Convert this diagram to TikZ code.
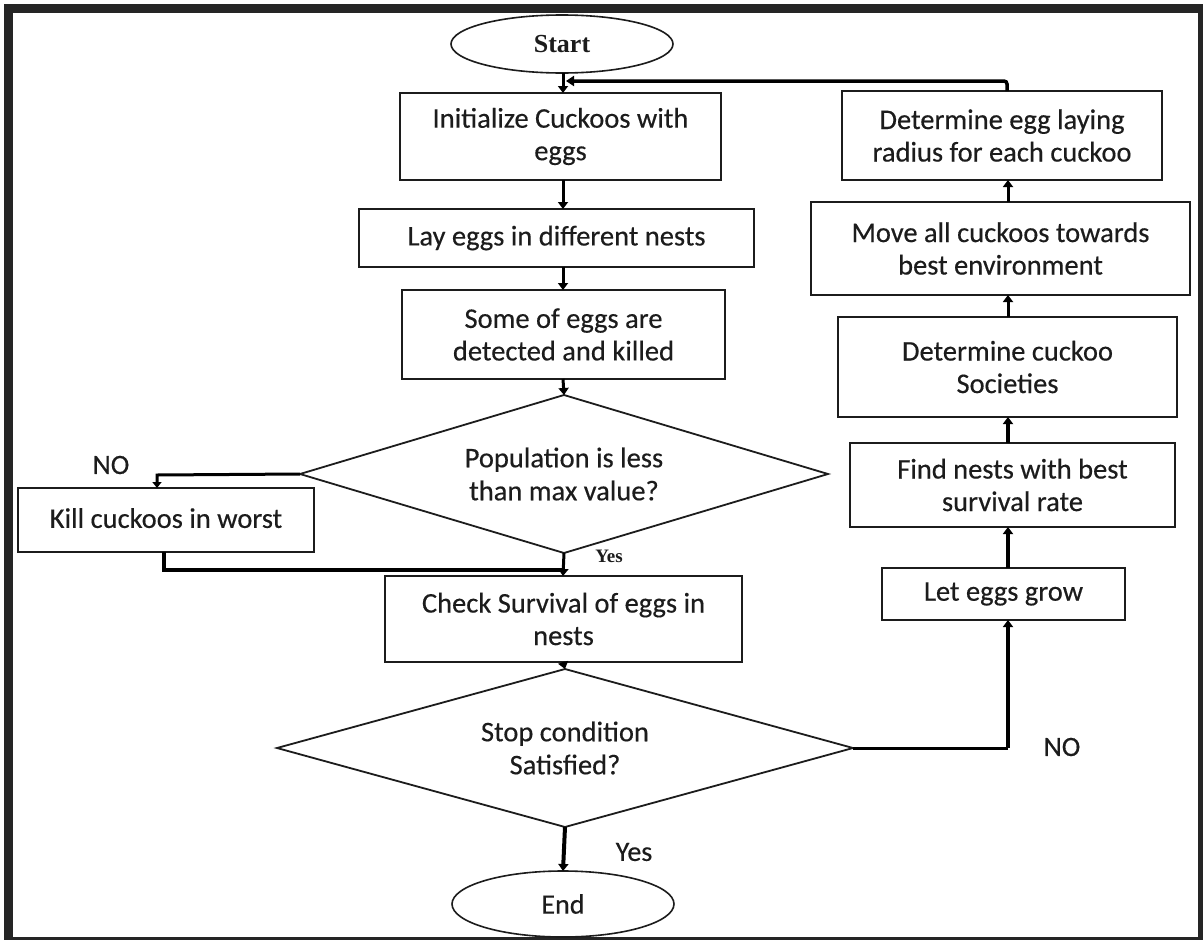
\documentclass[tikz,border=0pt]{standalone}
\usepackage{fontspec}
\setmainfont{Carlito}[FakeBold=0.35]
\newfontfamily\headfont{Liberation Serif}
\usetikzlibrary{shapes.geometric,arrows.meta}

\definecolor{inkcol}{HTML}{1C1C1C}
\definecolor{framecol}{HTML}{252525}

\tikzset{
  stepbox/.style={draw=inkcol, line width=1.8pt, rectangle, inner sep=0pt,
    outer sep=0pt, align=center, text=inkcol,
    font=\fontsize{28.5}{32.5}\selectfont},
  termbox/.style={draw=inkcol, line width=1.6pt, ellipse, inner sep=0pt,
    outer sep=0pt, minimum width=222pt, text=inkcol},
  testbox/.style={draw=inkcol, line width=1.8pt, diamond, inner sep=0pt,
    outer sep=0pt, align=center, text=inkcol,
    font=\fontsize{28.5}{33}\selectfont},
  flow/.style={draw=black, line width=3pt,
    -{Triangle[length=7pt,width=10pt]}},
  wire/.style={draw=black, line width=3pt},
  tag/.style={text=inkcol, font=\fontsize{28}{30}\selectfont, inner sep=0pt}
}

\begin{document}
\begin{tikzpicture}[x=1pt,y=-1pt]
  % page and dark frame
  \useasboundingbox (0,0) rectangle (1203,940);
  \fill[white] (0,0) rectangle (1203,940);
  \fill[framecol] (4,4) rectangle (1203,940);
  \fill[white] (13,13) rectangle (1198,937);

  % column positions
  \coordinate (mx) at (563,0);
  \coordinate (rx) at (1008,0);

  % main column
  \node[termbox, minimum height=58pt, font=\headfont\bfseries\fontsize{26}{30}\selectfont]
    (start) at (562,44) {Start};
  \node[stepbox, minimum width=321pt, minimum height=87pt] (init) at (560.5,136.5)
    {Initialize Cuckoos with\\eggs};
  \node[stepbox, minimum width=395pt, minimum height=58pt] (lay) at (556.5,238)
    {Lay eggs in different nests};
  \node[stepbox, minimum width=323pt, minimum height=89pt] (detect) at (563.5,334.5)
    {Some of eggs are\\detected and killed};
  \node[testbox, minimum width=528pt, minimum height=158pt, shape aspect=3.34]
    (popq) at (564,474) {Population is less\\than max value?};
  \node[stepbox, minimum width=296pt, minimum height=64pt] (kill) at (166,520)
    {\raisebox{4pt}{Kill cuckoos in worst}};
  \node[stepbox, minimum width=357pt, minimum height=86pt] (check) at (563.5,619)
    {Check Survival of eggs in\\nests};
  \node[testbox, minimum width=576pt, minimum height=158pt, shape aspect=3.65]
    (stopq) at (565,748) {Stop condition\\Satisfied?};
  \node[termbox, minimum height=66pt, font=\fontsize{28}{30}\selectfont]
    (end) at (563,904) {End};

  % right column
  \node[stepbox, minimum width=320pt, minimum height=89pt] (radius) at (1002,135.5)
    {Determine egg laying\\radius for each cuckoo};
  \node[stepbox, minimum width=379pt, minimum height=93pt] (move) at (1000.5,248.5)
    {Move all cuckoos towards\\best environment};
  \node[stepbox, minimum width=339pt, minimum height=100pt] (society) at (1007.5,367)
    {Determine cuckoo\\Societies};
  \node[stepbox, minimum width=325pt, minimum height=84pt] (best) at (1012.5,485)
    {Find nests with best\\survival rate};
  \node[stepbox, minimum width=243pt, minimum height=52pt] (grow) at (1003.5,594)
    {Let eggs grow};

  % labels on the branches
  \node[tag] (no1) at (111,465) {NO};
  \node[text=inkcol, inner sep=0pt, font=\headfont\bfseries\fontsize{19}{20}\selectfont]
    (yes1) at (609,556) {Yes};
  \node[tag] (yes2) at (634,852) {Yes};
  \node[tag] (no2) at (1062,747) {NO};

  % junction points
  \coordinate (killin) at (157,475);
  \coordinate (join) at (563,570);
  \coordinate (back) at (1007,81);
  \coordinate (entry) at (566,81);

  % main flow
  \draw[flow] (start.south -| mx) -- (init.north -| mx);
  \draw[flow] (init.south -| mx) -- (lay.north -| mx);
  \draw[flow] (lay.south -| mx) -- (detect.north -| mx);
  \draw[flow] (detect.south -| mx) -- (popq.north);
  \draw[flow] (popq.south) -- (check.north -| mx);
  \draw[flow] (check.south -| mx) -- (stopq.north);
  \draw[flow, line width=4pt] (stopq.south) -- (end.north);

  % population too large: cull and rejoin
  \draw[draw=black, line width=3pt, -{Triangle[length=6pt,width=9pt]}]
    (popq.west) -- (killin) -- (kill.north -| killin);
  \draw[wire, line width=3.2pt] (kill.south -| 164,0) |- (join);

  % not finished: go round the right column
  \draw[wire] (stopq.east) -- (stopq.east -| rx);
  \draw[flow, line width=4.5pt] (stopq.east -| rx) -- (grow.south -| rx);
  \draw[flow, line width=4pt] (grow.north -| rx) -- (best.south -| rx);
  \draw[flow, line width=4pt] (best.north -| rx) -- (society.south -| rx);
  \draw[flow] (society.north -| rx) -- (move.south -| rx);
  \draw[flow] (move.north -| rx) -- (radius.south -| rx);
  \draw[draw=black, line width=3.5pt, rounded corners=3pt,
        -{Triangle[length=8pt,width=10pt]}]
    (radius.north -| back) -- (back) -- (entry);
\end{tikzpicture}
\end{document}
